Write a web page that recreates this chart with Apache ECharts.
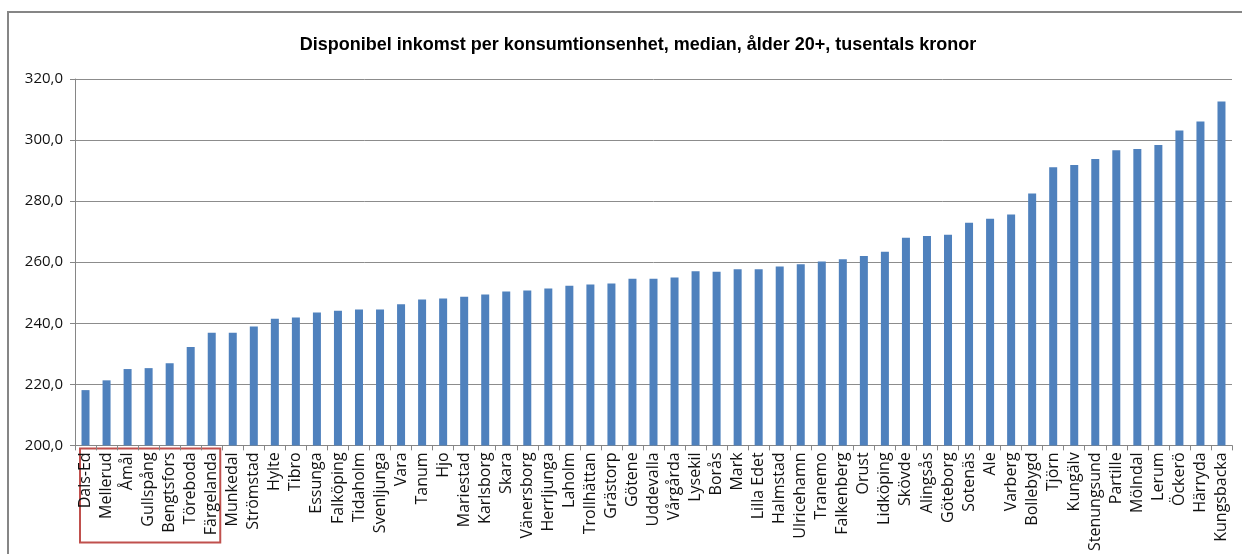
<!DOCTYPE html>
<html style="height: 100%">
<head>
<meta charset="utf-8">
<title>Disponibel inkomst</title>
<script src="https://cdn.jsdelivr.net/npm/echarts@6/dist/echarts.min.js"></script>
</head>
<body style="height: 100%; margin: 0; background: #fff">
<div id="container" style="width: 1242px; height: 554px"></div>
<script>
// kommuner, sorterade efter median
var kommuner = ['Dals-Ed', 'Mellerud', 'Åmål', 'Gullspång', 'Bengtsfors', 'Töreboda', 'Färgelanda',
  'Munkedal', 'Strömstad', 'Hylte', 'Tibro', 'Essunga', 'Falköping', 'Tidaholm', 'Svenljunga', 'Vara',
  'Tanum', 'Hjo', 'Mariestad', 'Karlsborg', 'Skara', 'Vänersborg', 'Herrljunga', 'Laholm', 'Trollhättan',
  'Grästorp', 'Götene', 'Uddevalla', 'Vårgårda', 'Lysekil', 'Borås', 'Mark', 'Lilla Edet', 'Halmstad',
  'Ulricehamn', 'Tranemo', 'Falkenberg', 'Orust', 'Lidköping', 'Skövde', 'Alingsås', 'Göteborg', 'Sotenäs',
  'Ale', 'Varberg', 'Bollebygd', 'Tjörn', 'Kungälv', 'Stenungsund', 'Partille', 'Mölndal', 'Lerum',
  'Öckerö', 'Härryda', 'Kungsbacka'];

var inkomst = [218.1, 221.3, 225.0, 225.3, 226.9, 232.2, 236.9,
  236.9, 238.9, 241.5, 241.9, 243.5, 244.1, 244.5, 244.5, 246.2,
  247.8, 248.1, 248.7, 249.4, 250.4, 250.7, 251.4, 252.3, 252.7,
  253.0, 254.6, 254.6, 255.0, 257.0, 256.9, 257.7, 257.7, 258.6,
  259.3, 260.2, 261.0, 262.0, 263.4, 268.0, 268.6, 269.0, 272.9,
  274.2, 275.6, 282.5, 291.1, 291.8, 293.8, 296.7, 297.1, 298.4,
  303.1, 306.1, 312.6];

// markerade kommuner (röd ram)
var markerade = ['Dals-Ed', 'Färgelanda'];

var yMin = 200, yMax = 320, yStep = 20;

var dom = document.getElementById('container');
var myChart = echarts.init(dom);

var option = {
  animation: false,
  title: {
    text: 'Disponibel inkomst per konsumtionsenhet, median, ålder 20+, tusentals kronor',
    left: 633,
    textAlign: 'center',
    top: 31,
    textStyle: {
      fontFamily: 'Liberation Sans Narrow, Liberation Sans, sans-serif',
      fontSize: 18,
      fontWeight: 'bold',
      color: '#000'
    }
  },
  grid: {
    left: 75,
    right: 10,
    top: 79,
    bottom: 106
  },
  xAxis: {
    type: 'category',
    data: kommuner,
    axisLine: { lineStyle: { color: '#868686', width: 1 } },
    axisTick: { show: true, length: 5, lineStyle: { color: '#868686' } },
    axisLabel: {
      interval: 0,
      rotate: 90,
      margin: 7,
      fontFamily: 'Open Sans, sans-serif',
      fontSize: 16,
      color: '#111'
    }
  },
  yAxis: {
    type: 'value',
    min: yMin,
    max: yMax,
    interval: yStep,
    axisLine: { show: true, lineStyle: { color: '#868686' } },
    axisTick: { show: true, length: 5, lineStyle: { color: '#868686' } },
    splitLine: { lineStyle: { color: '#8c8c8c', width: 1 } },
    axisLabel: {
      margin: 12,
      fontFamily: 'Open Sans, sans-serif',
      fontSize: 15,
      color: '#111',
      formatter: function (v) { return v.toFixed(1).replace('.', ','); }
    }
  },
  series: [{
    type: 'bar',
    data: inkomst,
    barWidth: 8,
    itemStyle: { color: '#4f81bd' }
  }]
};

myChart.setOption(option);

// ram runt diagrammet och röd markering under de första kommunerna
var p0 = myChart.convertToPixel({ xAxisIndex: 0 }, markerade[0]);
var p1 = myChart.convertToPixel({ xAxisIndex: 0 }, markerade[1]);
var half = (myChart.convertToPixel({ xAxisIndex: 0 }, kommuner[1]) - p0) / 2;
var axisY = myChart.convertToPixel({ yAxisIndex: 0 }, yMin);

myChart.setOption({
  graphic: [
    {
      type: 'rect',
      shape: { x: 8, y: 12, width: 1300, height: 700 },
      style: { fill: 'none', stroke: '#868686', lineWidth: 2 },
      silent: true
    },
    {
      type: 'rect',
      shape: { x: p0 - half + 5, y: axisY + 3, width: (p1 - p0) + 2 * half - 7, height: 94 },
      style: { fill: 'none', stroke: '#c0504d', lineWidth: 2 },
      silent: true
    }
  ]
});
</script>
</body>
</html>
